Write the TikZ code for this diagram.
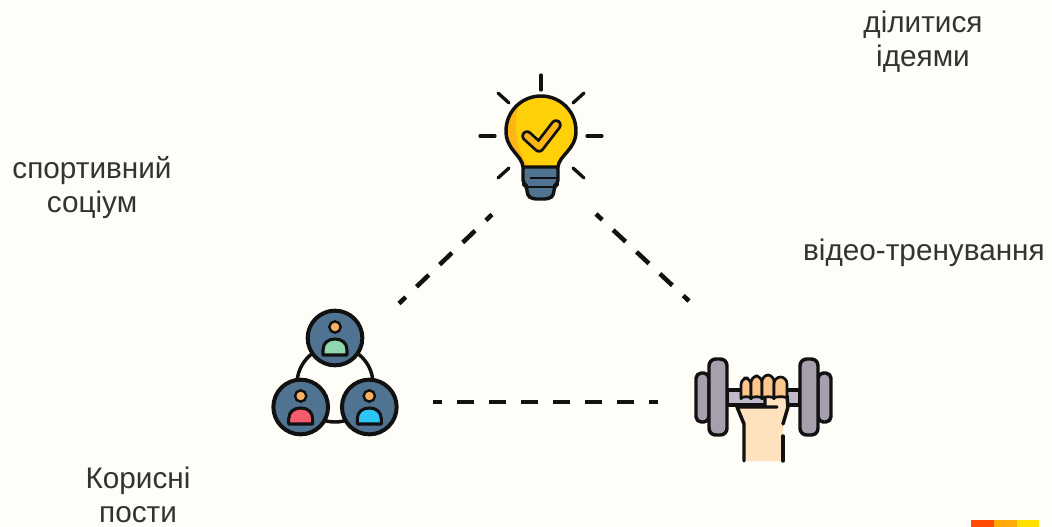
\documentclass[tikz,border=0pt]{standalone}
\usepackage{fontspec}
\setmainfont{Liberation Sans}
\definecolor{bgc}{HTML}{FFFDF8}
\definecolor{ink}{HTML}{111111}
\definecolor{txtc}{HTML}{333333}
\definecolor{steel}{HTML}{4F7391}
\definecolor{bulbc}{HTML}{FFD008}
\definecolor{bulbd}{HTML}{FDB515}
\definecolor{skinhead}{HTML}{F8B064}
\definecolor{pgreen}{HTML}{8FD8AE}
\definecolor{pred}{HTML}{F45B6C}
\definecolor{pblue}{HTML}{2CC6F7}
\definecolor{plate}{HTML}{A79FAE}
\definecolor{barc}{HTML}{BFB9C9}
\definecolor{palm}{HTML}{FEE1BD}
\definecolor{finger}{HTML}{FDC68C}
\definecolor{stripa}{HTML}{FF4A06}
\definecolor{stripb}{HTML}{FFA90A}
\definecolor{stripc}{HTML}{FFE000}
\tikzset{
  lab/.style={font=\fontsize{22.3pt}{25.5pt}\selectfont,text=txtc,align=center,inner sep=0pt},
  link/.style={draw=ink,line width=3.4pt,dash pattern=on 12.75pt off 11.25pt,dash phase=6.375pt},
  ray/.style={draw=ink,line width=2.5pt,line cap=round},
  outl/.style={draw=ink,line width=2.6pt,line join=round},
  hub/.style={circle,draw=ink,line width=3pt,fill=steel,minimum size=41pt,inner sep=0pt},
  head/.style={circle,draw=ink,line width=1.8pt,fill=skinhead,minimum size=8.5pt,inner sep=0pt},
}
\newcommand{\personbody}[3]{%
  \draw[outl,fill=#3,line width=2.3pt] (#1-12,#2+17) -- (#1+12,#2+17) -- (#1+12,#2+12) .. controls (#1+12,#2+5) and (#1+7,#2+1) .. (#1,#2+1) .. controls (#1-7,#2+1) and (#1-12,#2+5) .. (#1-12,#2+12) -- cycle;}
\begin{document}
\begin{tikzpicture}[x=0.75pt,y=-0.75pt]
\useasboundingbox (0,0) rectangle (1052,527);
\fill[bgc] (0,0) rectangle (1052,527);

% labels
\node[lab] (share) at (923,41.5) {ділитися\\ідеями};
\node[lab] (social) at (92,187.5) {спортивний\\соціум};
\node[lab] (video) at (924,253) {відео-тренування};
\node[lab] (posts) at (138,495) {Корисні\\пости};

% connector ends
\coordinate (bulbL) at (492,214.5);
\coordinate (peopleT) at (399,303.5);
\coordinate (bulbR) at (596,214);
\coordinate (gymT) at (689,301);
\coordinate (peopleR) at (433,402);
\coordinate (gymL) at (658,402);
\draw[link] (bulbL) -- (peopleT);
\draw[link] (bulbR) -- (gymT);
\draw[link] (peopleR) -- (gymL);

% bulb
\foreach \a/\b/\c/\d in {541/75/541/90,480/136/495/136,587/136/602/136,498/93/509/103,584/93/573/103,509/168/498/178,573/168/584/178}
  \draw[ray] (\a,\b) -- (\c,\d);
\draw[outl,fill=steel,rounded corners=3pt] (523,165) -- (558,165) -- (558,184) -- (554,186) -- (554,195) -- (549,199) -- (532,199) -- (527,195) -- (527,186) -- (523,184) -- cycle;
\draw[draw=ink,line width=1.8pt] (530,178) -- (558,178);
\draw[draw=ink,line width=1.8pt] (527,187) -- (554,187);
\path[fill=bulbc] (523,167) .. controls (522,155) and (506,150) .. (506,131) .. controls (506,111) and (522,96) .. (541,96) .. controls (560,96) and (576,111) .. (576,131) .. controls (576,150) and (559,155) .. (558,167) -- cycle;
\fill[bulbd] (522.5,165.5) .. controls (521.5,155) and (507,150) .. (507,131) .. controls (507,120) and (511,111) .. (518,106) .. controls (513,130) and (516,150) .. (528,165.5) -- cycle;
\draw[outl] (523,167) .. controls (522,155) and (506,150) .. (506,131) .. controls (506,111) and (522,96) .. (541,96) .. controls (560,96) and (576,111) .. (576,131) .. controls (576,150) and (559,155) .. (558,167) -- cycle;
\draw[ink,line width=8.6pt,line cap=round,line join=round] (527,136) -- (539,147) -- (556,125);
\draw[bulbd,line width=4.4pt,line cap=round,line join=round] (527,136) -- (539,147) -- (556,125);

% people
\draw[draw=ink,line width=2.6pt] (335,384) circle[radius=38];
\node[hub] (hubtop) at (335,338) {};
\node[hub] (hubleft) at (300.7,407) {};
\node[hub] (hubright) at (369.3,407) {};
\node[head] (headtop) at (335,327) {};
\node[head] (headleft) at (300.7,396) {};
\node[head] (headright) at (369.3,396) {};
\personbody{335}{338}{pgreen}
\personbody{300.7}{407}{pred}
\personbody{369.3}{407}{pblue}

% dumbbell
\draw[outl,fill=barc] (727,390) rectangle (800,405);
\draw[outl,fill=plate,rounded corners=4pt] (696,373) rectangle (709,422);
\draw[outl,fill=plate,rounded corners=4pt] (818,373) rectangle (831,422);
\draw[outl,fill=plate,rounded corners=5pt] (709,359) rectangle (727,435);
\draw[outl,fill=plate,rounded corners=5pt] (800,359) rectangle (818,435);
\fill[palm] (744,461) -- (744,424) -- (737,407) -- (765,407) -- (765,396) -- (787,396) -- (788,407) -- (783,424) -- (783,461) -- cycle;
\draw[outl,line cap=round] (744,461) -- (744,424) -- (737,407) -- (777,407);
\draw[outl,line cap=round] (765,407) -- (765,396) -- (787,396) -- (788,407) -- (783,424);
\draw[outl,line cap=round] (783,436) -- (783,461);
\foreach \l/\r/\t in {741/751/378,751/762/376,762/774/375,774/787/377}
  \draw[outl,fill=finger,rounded corners=5pt,line width=2pt] (\l,392) -- (\l,\t) -- (\r,\t) -- (\r,392) .. controls (\r,396) and (\l,396) .. (\l,392) -- cycle;

% palette strip
\fill[stripa] (971,520) rectangle (994,527);
\fill[stripb] (994,520) rectangle (1016.5,527);
\fill[stripc] (1016.5,520) rectangle (1039,527);
\end{tikzpicture}
\end{document}
